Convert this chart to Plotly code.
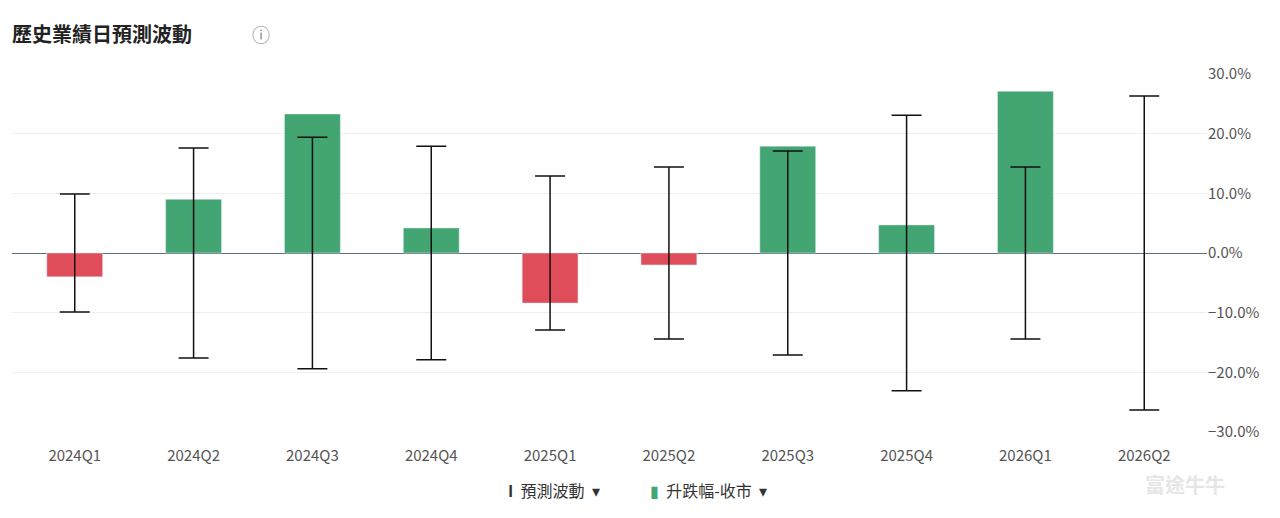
import plotly.graph_objects as go

quarters = ["2024Q1", "2024Q2", "2024Q3", "2024Q4", "2025Q1", "2025Q2",
            "2025Q3", "2025Q4", "2026Q1", "2026Q2"]
change = [-4.0, 9.0, 23.3, 4.2, -8.4, -2.0, 17.9, 4.7, 27.1, None]
expected_move = [9.9, 17.6, 19.4, 17.9, 12.9, 14.4, 17.1, 23.1, 14.4, 26.3]

colors = ["#e04d5a" if (v is not None and v < 0) else "#42a572" for v in change]

L, R, T, B = 4, 81, 66, 94
W, H = 1280, 518
DX, DY = 8, 7  # page offset seen in the screenshot


def px(x, y):
    # screenshot pixel position -> paper coords
    return (x - DX - L) / (W - L - R), 1 - (y - DY - T) / (H - T - B)


fig = go.Figure()
fig.add_trace(go.Bar(x=quarters, y=change, marker_color=colors, width=0.47,
                     showlegend=False))
fig.add_trace(go.Scatter(
    x=quarters, y=[0] * len(quarters), mode="markers",
    marker=dict(size=1, color="rgba(0,0,0,0)"),
    error_y=dict(type="data", array=expected_move, symmetric=True,
                 color="#111", thickness=1.5, width=15),
    showlegend=False, hoverinfo="skip"))


def note(text, x, y, size, color, anchor="center"):
    ax, ay = px(x, y)
    return dict(text=text, x=ax, y=ay, xref="paper", yref="paper",
                xanchor=anchor, yanchor="middle", showarrow=False,
                font=dict(size=size, color=color))


fig.update_layout(
    width=W, height=H, plot_bgcolor="white", paper_bgcolor="white",
    margin=dict(l=L, r=R, t=T, b=B),
    font=dict(family="Noto Sans CJK TC", color="#555", size=14),
    xaxis=dict(showgrid=False, tickfont=dict(size=15, color="#555"),
               ticks="outside", ticklen=10, tickcolor="rgba(0,0,0,0)"),
    yaxis=dict(side="right", range=[-30, 30], dtick=10, ticksuffix="%",
               tickformat=".1f", gridcolor="#efefef", zeroline=True,
               zerolinecolor="#5f6f7a", zerolinewidth=1,
               tickfont=dict(size=15, color="#555")),
    annotations=[
        note("<b>歷史業績日預測波動</b>", 10, 33, 20, "#222", "left"),
        note("ⓘ", 261, 33, 18, "#888"),
        note("<b>I</b>  預測波動  ▾", 554, 489, 16, "#333"),
        note("<span style='color:#42a572'>▮</span>  升跌幅-收市  ▾", 708, 489, 16, "#333"),
        note("<b>富途牛牛</b>", 1185, 483, 20, "#e6e6e6"),
    ],
)
fig.write_html("out.html")
